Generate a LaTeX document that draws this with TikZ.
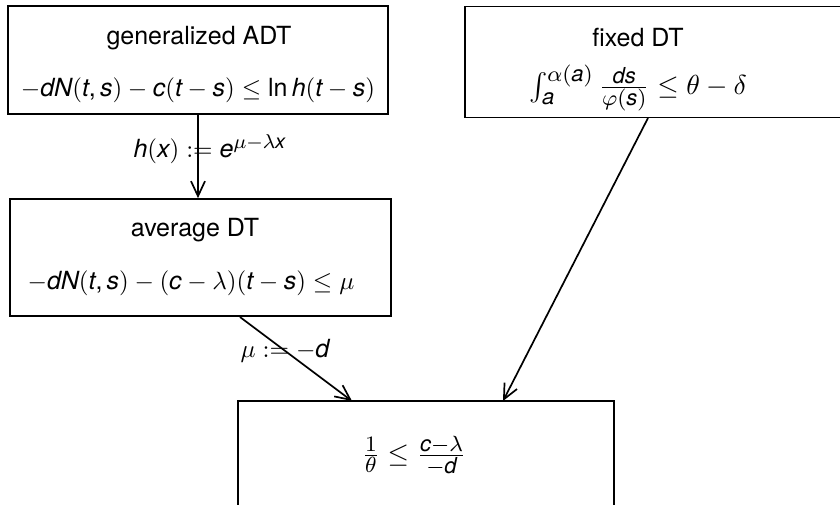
\documentclass[tikz,border=0pt]{standalone}
\usepackage{fontspec}
\setmainfont{TeX Gyre Heros}
\usepackage[italic]{mathastext}
\AtBeginDocument{\mathcode`\-="2200 }
\usepackage{graphicx}
\usetikzlibrary{arrows.meta}
\newcommand\sbx[1]{\scalebox{2.5}{#1}}
\newcommand\sbxl[1]{\scalebox{2.75}{#1}}
\begin{document}
\begin{tikzpicture}[x=1pt,y=-1pt,
  box/.style={draw,line width=1.7pt,inner sep=0pt},
  txt/.style={inner sep=0pt},
  conn/.style={line width=1.7pt,-{Straight Barb[length=15pt,width=14pt,line width=1.7pt]}},
  lab/.style={inner sep=0pt}]
\useasboundingbox (0,0) rectangle (840,504);
% boxes
\node[box,minimum width=380pt,minimum height=108pt] (gen) at (198,60) {};
\node[box,minimum width=380pt,minimum height=111pt] (fix) at (655,62) {};
\node[box,minimum width=381pt,minimum height=117pt] (avg) at (200.5,257.5) {};
\node[box,minimum width=376pt,minimum height=140pt] (res) at (426,471) {};
% texts
\node[txt] (gent) at (199,38) {\sbx{generalized ADT}};
\node[txt] (genf) at (198,90) {\sbx{$-dN(t,s)-c(t-s)\le \ln h(t-s)$}};
\node[txt] (fixt) at (638,38) {\sbx{fixed DT}};
\node[txt] (fixf) at (638,88) {\sbxl{$\int_a^{\alpha(a)}\frac{ds}{\varphi(s)}\le\theta-\delta$}};
\node[txt] (avgt) at (195,230) {\sbx{average DT}};
\node[txt] (avgf) at (191,283) {\sbx{$-dN(t,s)-(c-\lambda)(t-s)\le\mu$}};
\node[txt] (resf) at (414,456) {\sbxl{$\frac{1}{\theta}\le\frac{c-\lambda}{-d}$}};
% connector end points
\coordinate (a2s) at (240,317);
\coordinate (a2e) at (352,401);
\coordinate (a3s) at (648,118);
\coordinate (a3e) at (503,401);
% connectors
\draw[conn] (gen.south) -- (gen.south |- avg.north);
\draw[conn] (a2s) -- (a2e);
\draw[conn] (a3s) -- (a3e);
% labels
\node[lab] (l1) at (210,149) {\sbx{$h(x) := e^{\mu-\lambda x}$}};
\node[lab] (l2) at (285,351) {\sbx{$\mu := -d$}};
\end{tikzpicture}
\end{document}
